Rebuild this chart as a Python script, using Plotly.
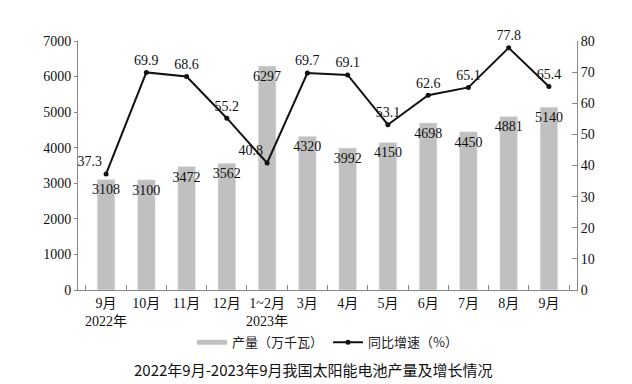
import plotly.graph_objects as go

categories = ["9月<br>2022年", "10月", "11月", "12月", "1~2月<br>2023年", "3月", "4月", "5月", "6月", "7月", "8月", "9月"]
output = [3108, 3100, 3472, 3562, 6297, 4320, 3992, 4150, 4698, 4450, 4881, 5140]
growth = [37.3, 69.9, 68.6, 55.2, 40.8, 69.7, 69.1, 53.1, 62.6, 65.1, 77.8, 65.4]
growth_pos = ["top left", "top center", "top center", "top center", "top left", "top center",
              "top center", "top center", "top center", "top center", "top center", "top center"]

SERIF = "Liberation Serif, Noto Sans CJK SC, serif"
CJK = "Noto Sans CJK SC, sans-serif"

fig = go.Figure()
fig.add_trace(go.Bar(
    x=categories, y=output, name="产量（万千瓦）", showlegend=False,
    marker=dict(color="#c0c0c0"),
    text=[str(v) for v in output], textposition="inside", insidetextanchor="end",
    constraintext="none", cliponaxis=False,
    textfont=dict(family=SERIF, size=14, color="#111"),
    textangle=0,
))
# legend entry for the bars, drawn as a thick grey line like the reference
fig.add_trace(go.Scatter(
    x=[None], y=[None], name="产量（万千瓦）", mode="lines",
    line=dict(color="#c0c0c0", width=5),
))
fig.add_trace(go.Scatter(
    x=categories, y=growth, name="同比增速（%）", yaxis="y2",
    mode="lines+markers+text",
    line=dict(color="#111", width=2),
    marker=dict(color="#111", size=5),
    text=[f"{v:.1f}" for v in growth], textposition=growth_pos,
    textfont=dict(family=SERIF, size=14, color="#111"),
    cliponaxis=False,
))

fig.update_layout(
    width=632, height=384,
    margin=dict(l=70, r=63, t=33, b=102),
    plot_bgcolor="white", paper_bgcolor="white",
    font=dict(family=SERIF, size=14, color="#111"),
    bargap=0.56,
    showlegend=True,
    legend=dict(orientation="h", x=0.5, xanchor="center", y=-0.15, yanchor="top",
                font=dict(family=CJK, size=13, color="#222"),
                tracegroupgap=0),
    xaxis=dict(
        type="category", showline=True, linecolor="#888", linewidth=1,
        ticks="inside", tickson="boundaries", ticklen=5, tickcolor="#888",
        tickangle=0,
        tickfont=dict(family=SERIF, size=14, color="#111"),
        showgrid=False,
    ),
    yaxis=dict(
        range=[0, 7000], dtick=1000, showline=True, linecolor="#888", linewidth=1,
        ticks="outside", ticklen=3, tickcolor="#888", showgrid=False, zeroline=False,
        tickfont=dict(family=SERIF, size=14, color="#111"),
    ),
    yaxis2=dict(
        range=[0, 80], dtick=10, overlaying="y", side="right",
        showline=True, linecolor="#888", linewidth=1,
        ticks="inside", ticklen=5, tickcolor="#888", showgrid=False, zeroline=False,
        tickfont=dict(family=SERIF, size=14, color="#111"),
    ),
    annotations=[dict(
        text="2022年9月-2023年9月我国太阳能电池产量及增长情况",
        xref="paper", yref="paper", x=0.47, y=-0.27, xanchor="center", yanchor="top",
        showarrow=False, font=dict(family=CJK, size=15, color="#111"),
    )],
)

fig.write_html("out.html")
